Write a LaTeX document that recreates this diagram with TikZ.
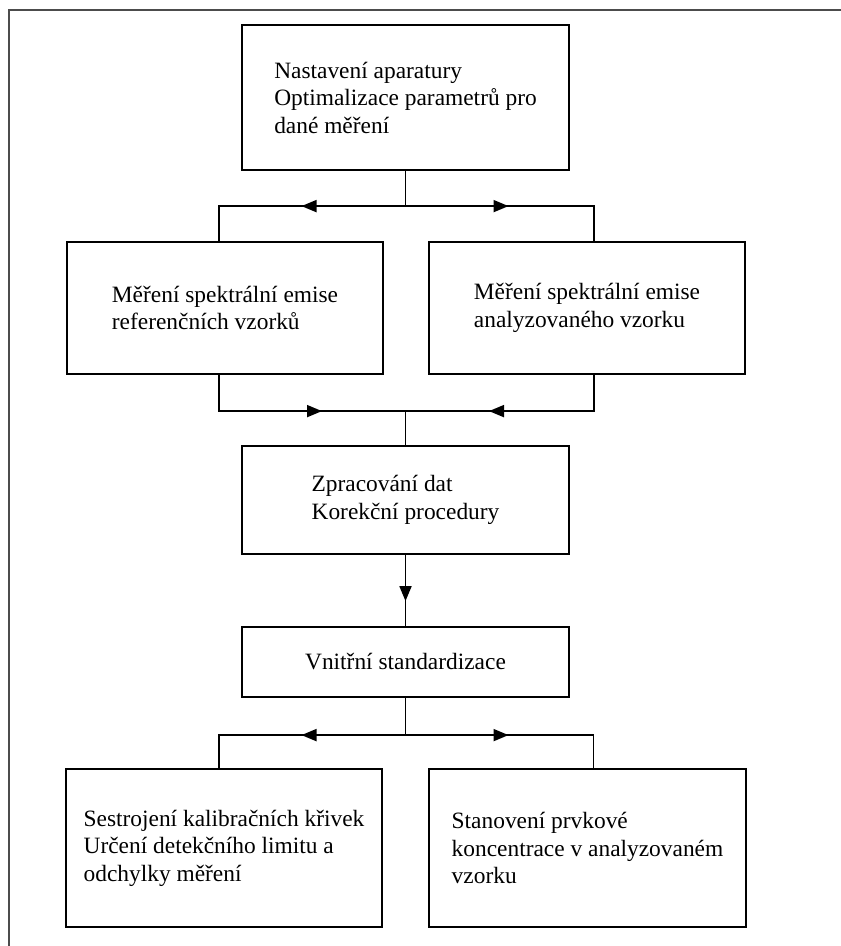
\documentclass[tikz,border=0pt]{standalone}
\usepackage{fontspec}
\setmainfont{Liberation Serif}
\usetikzlibrary{arrows.meta,decorations.markings}

\begin{document}
\begin{tikzpicture}[
    x=1pt, y=-1pt,
    box/.style={draw, line width=2.2pt, align=left, inner sep=0pt,
        font=\fontsize{23.4}{27.5}\selectfont},
    link/.style={line width=1.8pt},
    tipat/.style={postaction=decorate, decoration={markings,
        mark=at position #1 with {\arrow{Triangle[length=15pt,width=12pt]}}}}
]
\useasboundingbox (0,0) rectangle (841,946);

% frame
\draw[black!70, line width=1.6pt] (841,10) -- (9,10) -- (9,946);

\node[box, minimum width=327, minimum height=145] (setup) at (405.5,97.5)
    {Nastavení aparatury\\Optimalizace parametrů pro\\dané měření};
\node[box, minimum width=316, minimum height=132] (refs) at (225,308)
    {Měření spektrální emise\\referenčních vzorků};
\node[box, minimum width=316, minimum height=132] (sample) at (587,308)
    {Měření spektrální emise\\analyzovaného vzorku};
\node[box, minimum width=327, minimum height=108] (data) at (405.5,500)
    {Zpracování dat\\Korekční procedury};
\node[box, minimum width=327, minimum height=70] (std) at (405.5,662)
    {Vnitřní standardizace};
\node[box, minimum width=316, minimum height=158] (calib) at (224,848)
    {Sestrojení kalibračních křivek\\Určení detekčního limitu a\\odchylky měření};
\node[box, minimum width=317, minimum height=158] (conc) at (587.5,848)
    {Stanovení prvkové\\koncentrace v analyzovaném\\vzorku};

\draw[link, tipat=139pt] (setup.south) -- ++(0,35) -| ([xshift=-6]refs.north);
\draw[link, tipat=138pt] (setup.south) -- ++(0,35) -| ([xshift=7]sample.north);

\draw[link, tipat=139pt] ([xshift=-6]refs.south) -- ++(0,36) -| (data.north);
\draw[link, tipat=141pt] ([xshift=7]sample.south) -- ++(0,36) -| (data.north);

\draw[link, tipat=46pt] (data.south) -- (std.north);

\draw[link, tipat=141pt] (std.south) -- ++(0,37) -| ([xshift=-5]calib.north);
\draw[link, tipat=140pt] (std.south) -- ++(0,37) -| ([xshift=6]conc.north);

\end{tikzpicture}
\end{document}
